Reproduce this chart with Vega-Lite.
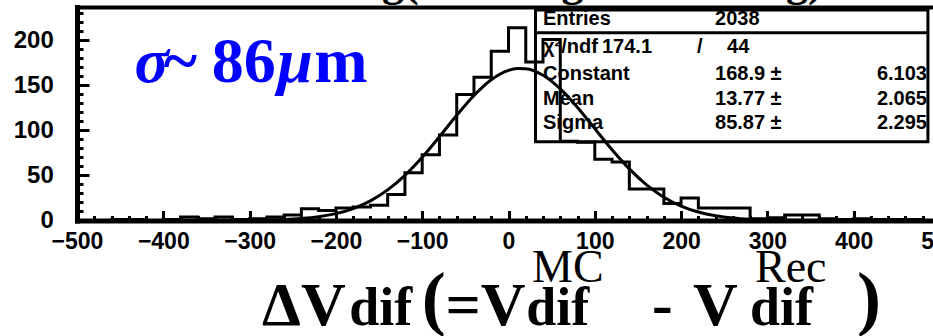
{
  "$schema": "https://vega.github.io/schema/vega-lite/v6.json",
  "autosize": "none",
  "width": 856,
  "height": 213.5,
  "padding": {"left": 77, "top": 7, "right": 0, "bottom": 115.5},
  "background": "white",
  "config": {"view": {"stroke": null}},
  "resolve": {"axis": {"x": "independent", "y": "independent"}},
  "datasets": {
    "hist": [
      {"lo": -500, "n": 0}, {"lo": -480, "n": 0}, {"lo": -460, "n": 1}, {"lo": -440, "n": 1}, {"lo": -420, "n": 0},
      {"lo": -400, "n": 1}, {"lo": -380, "n": 4}, {"lo": -360, "n": 2}, {"lo": -340, "n": 4}, {"lo": -320, "n": 1},
      {"lo": -300, "n": 2}, {"lo": -280, "n": 4}, {"lo": -260, "n": 6}, {"lo": -240, "n": 13}, {"lo": -220, "n": 11},
      {"lo": -200, "n": 14}, {"lo": -180, "n": 15}, {"lo": -160, "n": 17}, {"lo": -140, "n": 29}, {"lo": -120, "n": 53},
      {"lo": -100, "n": 73}, {"lo": -80, "n": 95}, {"lo": -60, "n": 140}, {"lo": -40, "n": 159}, {"lo": -20, "n": 188},
      {"lo": 0, "n": 214}, {"lo": 20, "n": 176}, {"lo": 40, "n": 201}, {"lo": 60, "n": 88}, {"lo": 80, "n": 87},
      {"lo": 100, "n": 68}, {"lo": 120, "n": 65}, {"lo": 140, "n": 35}, {"lo": 160, "n": 35}, {"lo": 180, "n": 19},
      {"lo": 200, "n": 25}, {"lo": 220, "n": 14}, {"lo": 240, "n": 14}, {"lo": 260, "n": 14}, {"lo": 280, "n": 2},
      {"lo": 300, "n": 3}, {"lo": 320, "n": 6}, {"lo": 340, "n": 6}, {"lo": 360, "n": 2}, {"lo": 380, "n": 1},
      {"lo": 400, "n": 2}, {"lo": 420, "n": 1}, {"lo": 440, "n": 1}, {"lo": 460, "n": 1}, {"lo": 480, "n": 1}
    ],
    "fit": [
      {"x": -500, "g": 0}, {"x": -480, "g": 0}, {"x": -460, "g": 0}, {"x": -440, "g": 0}, {"x": -420, "g": 0},
      {"x": -400, "g": 0.002}, {"x": -380, "g": 0.005}, {"x": -360, "g": 0.013}, {"x": -340, "g": 0.035}, {"x": -320, "g": 0.089},
      {"x": -300, "g": 0.213}, {"x": -280, "g": 0.485}, {"x": -260, "g": 1.05}, {"x": -240, "g": 2.15}, {"x": -220, "g": 4.15},
      {"x": -200, "g": 7.61}, {"x": -180, "g": 13.24}, {"x": -160, "g": 21.79}, {"x": -140, "g": 33.97}, {"x": -120, "g": 50.16},
      {"x": -100, "g": 70.19}, {"x": -80, "g": 93.01}, {"x": -60, "g": 116.8}, {"x": -40, "g": 138.8}, {"x": -20, "g": 156.3},
      {"x": 0, "g": 166.7}, {"x": 10, "g": 168.7}, {"x": 20, "g": 168.5}, {"x": 40, "g": 161.2}, {"x": 60, "g": 146.1},
      {"x": 80, "g": 125.4}, {"x": 100, "g": 102.0}, {"x": 120, "g": 78.6}, {"x": 140, "g": 57.3}, {"x": 160, "g": 39.6},
      {"x": 180, "g": 25.9}, {"x": 200, "g": 16.08}, {"x": 220, "g": 9.45}, {"x": 240, "g": 5.26}, {"x": 260, "g": 2.77},
      {"x": 280, "g": 1.38}, {"x": 300, "g": 0.65}, {"x": 320, "g": 0.29}, {"x": 340, "g": 0.12}, {"x": 360, "g": 0.05},
      {"x": 380, "g": 0.02}, {"x": 400, "g": 0.007}, {"x": 420, "g": 0}, {"x": 440, "g": 0}, {"x": 460, "g": 0},
      {"x": 480, "g": 0}, {"x": 500, "g": 0}
    ],
    "statsLeft": [
      {"t": "Entries", "x": 40, "y": 217.5},
      {"t": "2038", "x": 239.3, "y": 217.5},
      {"t": "χ²/ndf", "x": 40, "y": 185.6},
      {"t": "174.1", "x": 108.3, "y": 185.6},
      {"t": "/", "x": 218.4, "y": 185.6},
      {"t": "44", "x": 253.2, "y": 185.6},
      {"t": "Constant", "x": 40, "y": 155.5},
      {"t": "168.9 ±", "x": 239.3, "y": 155.5},
      {"t": "Mean", "x": 40, "y": 127.8},
      {"t": "13.77 ±", "x": 239.3, "y": 127.8},
      {"t": "Sigma", "x": 40, "y": 101.5},
      {"t": "85.87 ±", "x": 239.3, "y": 101.5}
    ],
    "statsRight": [
      {"t": "6.103", "x": 484.9, "y": 155.5},
      {"t": "2.065", "x": 484.9, "y": 127.8},
      {"t": "2.295", "x": 484.9, "y": 101.5}
    ]
  },
  "layer": [
    {
      "data": {"name": "hist"},
      "mark": {"type": "line", "interpolate": "step-after", "color": "black", "strokeWidth": 3},
      "encoding": {
        "x": {"field": "lo", "type": "quantitative",
          "scale": {"domain": [-500, 500], "range": [0, 863], "nice": false, "zero": false},
          "axis": {"orient": "bottom", "title": null, "grid": false,
            "values": [-500,-480,-460,-440,-420,-400,-380,-360,-340,-320,-300,-280,-260,-240,-220,-200,-180,-160,-140,-120,-100,-80,-60,-40,-20,0,20,40,60,80,100,120,140,160,180,200,220,240,260,280,300,320,340,360,380,400,420,440,460,480,500],
            "domainColor": "black", "domainWidth": 5, "domainCap": "square",
            "tickColor": "black", "tickWidth": 3,
            "tickSize": {"condition": {"test": "datum.value % 100 === 0", "value": -10}, "value": -5},
            "labelExpr": "datum.value % 100 === 0 ? datum.label : ''",
            "labelFont": "Liberation Sans", "labelFontWeight": "bold", "labelFontSize": 23, "labelColor": "black",
            "labelPadding": 19.5, "labelOverlap": false, "labelFlush": false, "labelBound": false}},
        "y": {"field": "n", "type": "quantitative",
          "scale": {"domain": [0, 237], "nice": false, "zero": false},
          "axis": {"orient": "left", "title": null, "grid": false,
            "values": [0,10,20,30,40,50,60,70,80,90,100,110,120,130,140,150,160,170,180,190,200,210,220,230],
            "domainColor": "black", "domainWidth": 5, "domainCap": "square",
            "tickColor": "black", "tickWidth": 3,
            "tickSize": {"condition": {"test": "datum.value % 50 === 0", "value": -12}, "value": -6},
            "labelExpr": "datum.value % 50 === 0 ? datum.label : ''",
            "labelFont": "Liberation Sans", "labelFontWeight": "bold", "labelFontSize": 24, "labelColor": "black",
            "labelPadding": 35.7, "labelOverlap": false, "labelBound": false}}
      }
    },
    {
      "data": {"name": "fit"},
      "mark": {"type": "line", "interpolate": "monotone", "color": "black", "strokeWidth": 3},
      "encoding": {
        "x": {"field": "x", "type": "quantitative",
          "scale": {"domain": [-500, 500], "range": [0, 863], "nice": false, "zero": false},
          "axis": {"orient": "top", "title": null, "grid": false, "ticks": false, "labels": false,
            "domainColor": "black", "domainWidth": 4, "domainCap": "square"}},
        "y": {"field": "g", "type": "quantitative", "scale": {"domain": [0, 237], "nice": false, "zero": false}, "axis": null}
      }
    },
    {
      "data": {"values": [{"x1": 31.3, "x2": 486, "y1": 233.7, "y2": 87.5}]},
      "mark": {"type": "rect", "fillOpacity": 0, "stroke": "black", "strokeWidth": 3},
      "encoding": {
        "x": {"field": "x1", "type": "quantitative", "scale": {"domain": [-500, 500], "range": [0, 863], "nice": false, "zero": false}, "axis": null},
        "x2": {"field": "x2"},
        "y": {"field": "y1", "type": "quantitative", "scale": {"domain": [0, 237], "nice": false, "zero": false}, "axis": null},
        "y2": {"field": "y2"}
      }
    },
    {
      "data": {"values": [{"x1": 31.3, "x2": 486, "y": 208.5}]},
      "mark": {"type": "rule", "color": "black", "strokeWidth": 3},
      "encoding": {
        "x": {"field": "x1", "type": "quantitative", "scale": {"domain": [-500, 500], "range": [0, 863], "nice": false, "zero": false}, "axis": null},
        "x2": {"field": "x2"},
        "y": {"field": "y", "type": "quantitative", "scale": {"domain": [0, 237], "nice": false, "zero": false}, "axis": null}
      }
    },
    {
      "data": {"name": "statsLeft"},
      "mark": {"type": "text", "align": "left", "baseline": "alphabetic", "font": "Liberation Sans", "fontWeight": "bold", "fontSize": 20, "color": "black"},
      "encoding": {
        "x": {"field": "x", "type": "quantitative", "scale": {"domain": [-500, 500], "range": [0, 863], "nice": false, "zero": false}, "axis": null},
        "y": {"field": "y", "type": "quantitative", "scale": {"domain": [0, 237], "nice": false, "zero": false}, "axis": null},
        "text": {"field": "t"}
      }
    },
    {
      "data": {"name": "statsRight"},
      "mark": {"type": "text", "align": "right", "baseline": "alphabetic", "font": "Liberation Sans", "fontWeight": "bold", "fontSize": 20, "color": "black"},
      "encoding": {
        "x": {"field": "x", "type": "quantitative", "scale": {"domain": [-500, 500], "range": [0, 863], "nice": false, "zero": false}, "axis": null},
        "y": {"field": "y", "type": "quantitative", "scale": {"domain": [0, 237], "nice": false, "zero": false}, "axis": null},
        "text": {"field": "t"}
      }
    },
    {
      "data": {"values": [{"t": "σ", "x": -433.5, "y": 154.1}, {"t": "μ", "x": -268.0, "y": 154.1}]},
      "mark": {"type": "text", "align": "left", "baseline": "alphabetic", "font": "Liberation Serif", "fontWeight": "bold", "fontStyle": "italic", "fontSize": 64, "color": "#0000ff"},
      "encoding": {
        "x": {"field": "x", "type": "quantitative", "scale": {"domain": [-500, 500], "range": [0, 863], "nice": false, "zero": false}, "axis": null},
        "y": {"field": "y", "type": "quantitative", "scale": {"domain": [0, 237], "nice": false, "zero": false}, "axis": null},
        "text": {"field": "t"}
      }
    },
    {
      "data": {"values": [{"t": "~", "x": -399.5, "y": 154.1}, {"t": "86", "x": -344.0, "y": 154.1}, {"t": "m", "x": -225.0, "y": 154.1}]},
      "mark": {"type": "text", "align": "left", "baseline": "alphabetic", "font": "Liberation Serif", "fontWeight": "bold", "fontSize": 64, "color": "#0000ff"},
      "encoding": {
        "x": {"field": "x", "type": "quantitative", "scale": {"domain": [-500, 500], "range": [0, 863], "nice": false, "zero": false}, "axis": null},
        "y": {"field": "y", "type": "quantitative", "scale": {"domain": [0, 237], "nice": false, "zero": false}, "axis": null},
        "text": {"field": "t"}
      }
    },
    {
      "data": {"values": [{"t": "ΔV", "x": -285.6, "y": -116.0}, {"t": "=V", "x": -73.0, "y": -116.0}, {"t": "-", "x": 166.3, "y": -116.0}, {"t": "V", "x": 213.8, "y": -116.0}]},
      "mark": {"type": "text", "align": "left", "baseline": "alphabetic", "font": "Liberation Serif", "fontWeight": "bold", "fontSize": 62, "color": "black"},
      "encoding": {
        "x": {"field": "x", "type": "quantitative", "scale": {"domain": [-500, 500], "range": [0, 863], "nice": false, "zero": false}, "axis": null},
        "y": {"field": "y", "type": "quantitative", "scale": {"domain": [0, 237], "nice": false, "zero": false}, "axis": null},
        "text": {"field": "t"}
      }
    },
    {
      "data": {"values": [{"t": "dif", "x": -184.5, "y": -116.0}, {"t": "dif", "x": 20.5, "y": -116.0}, {"t": "dif", "x": 279.8, "y": -116.0}]},
      "mark": {"type": "text", "align": "left", "baseline": "alphabetic", "font": "Liberation Serif", "fontWeight": "bold", "fontSize": 54, "color": "black"},
      "encoding": {
        "x": {"field": "x", "type": "quantitative", "scale": {"domain": [-500, 500], "range": [0, 863], "nice": false, "zero": false}, "axis": null},
        "y": {"field": "y", "type": "quantitative", "scale": {"domain": [0, 237], "nice": false, "zero": false}, "axis": null},
        "text": {"field": "t"}
      }
    },
    {
      "data": {"values": [{"t": "MC", "x": 27.2, "y": -68.5}, {"t": "Rec", "x": 285.6, "y": -68.5}]},
      "mark": {"type": "text", "align": "left", "baseline": "alphabetic", "font": "Liberation Serif", "fontWeight": "normal", "fontSize": 46, "color": "black"},
      "encoding": {
        "x": {"field": "x", "type": "quantitative", "scale": {"domain": [-500, 500], "range": [0, 863], "nice": false, "zero": false}, "axis": null},
        "y": {"field": "y", "type": "quantitative", "scale": {"domain": [0, 237], "nice": false, "zero": false}, "axis": null},
        "text": {"field": "t"}
      }
    },
    {
      "data": {"values": [{"t": "(", "x": -100.5, "y": -112.7}, {"t": ")", "x": 403.8, "y": -112.7}]},
      "mark": {"type": "text", "align": "left", "baseline": "alphabetic", "font": "Liberation Serif", "fontWeight": "bold", "fontSize": 72, "color": "black"},
      "encoding": {
        "x": {"field": "x", "type": "quantitative", "scale": {"domain": [-500, 500], "range": [0, 863], "nice": false, "zero": false}, "axis": null},
        "y": {"field": "y", "type": "quantitative", "scale": {"domain": [0, 237], "nice": false, "zero": false}, "axis": null},
        "text": {"field": "t"}
      }
    },
    {
      "data": {"values": [{"t": "Smearing(All Long", "x": -330.8, "y": 249.2}, {"t": "Scattering)", "x": 123.4, "y": 249.2}]},
      "mark": {"type": "text", "align": "left", "baseline": "alphabetic", "font": "Liberation Serif", "fontWeight": "bold", "fontSize": 44, "color": "black"},
      "encoding": {
        "x": {"field": "x", "type": "quantitative", "scale": {"domain": [-500, 500], "range": [0, 863], "nice": false, "zero": false}, "axis": null},
        "y": {"field": "y", "type": "quantitative", "scale": {"domain": [0, 237], "nice": false, "zero": false}, "axis": null},
        "text": {"field": "t"}
      }
    }
  ]
}
